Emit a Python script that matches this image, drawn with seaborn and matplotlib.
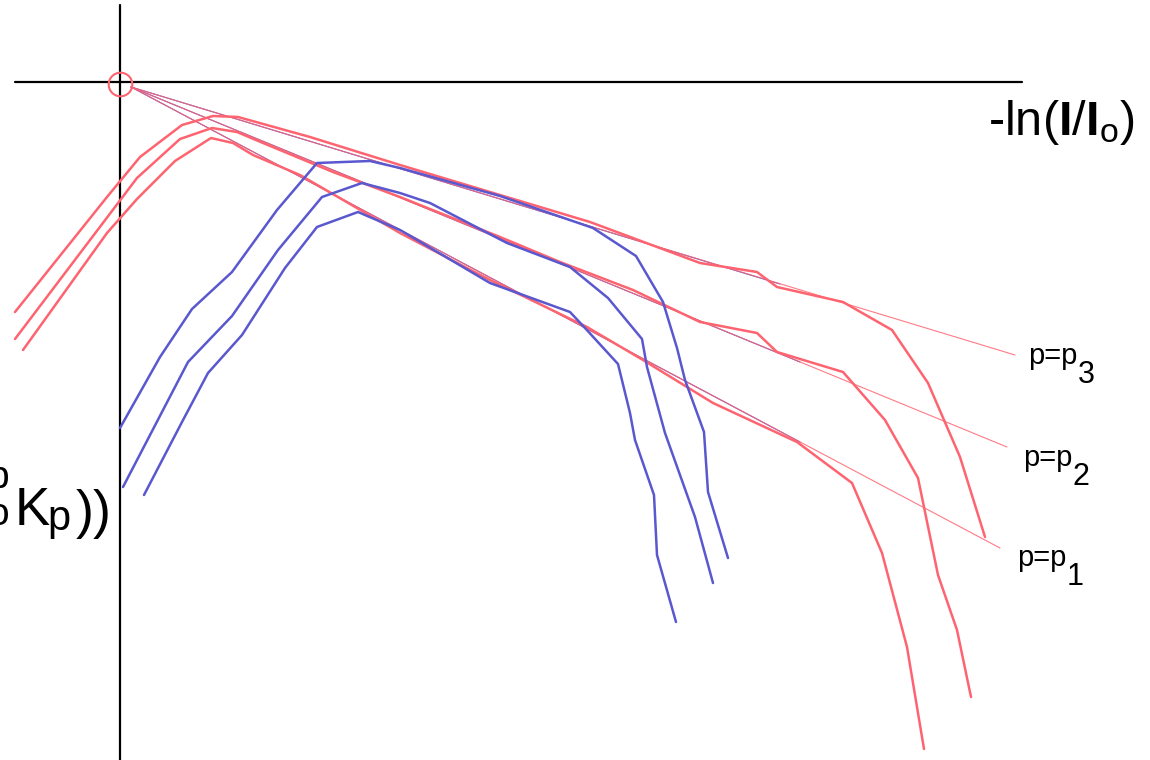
import numpy as np
import pandas as pd
import matplotlib
matplotlib.use("Agg")
import matplotlib.pyplot as plt
import seaborn as sns

# curves in axis units: x = -ln(I/I0), y = ln(...) ; origin where the axes cross
red1_x = [-1.05, -0.13, 0.20, 0.62, 0.93, 1.18, 1.90, 2.80, 3.80, 4.70, 5.13, 5.80, 6.37, 6.57, 7.23, 7.72, 8.08, 8.40, 8.65]
red1_y = [-2.30, -1.15, -0.75, -0.43, -0.34, -0.35, -0.55, -0.83, -1.13, -1.40, -1.56, -1.81, -1.90, -2.05, -2.20, -2.48, -3.01, -3.75, -4.55]

red2_x = [-1.05, 0.17, 0.60, 0.92, 1.17, 1.43, 2.13, 2.80, 3.80, 4.40, 5.13, 5.80, 6.37, 6.57, 7.23, 7.65, 7.98, 8.18, 8.37, 8.51]
red2_y = [-2.57, -0.96, -0.57, -0.46, -0.50, -0.61, -0.90, -1.15, -1.55, -1.80, -2.08, -2.40, -2.51, -2.70, -2.90, -3.38, -3.96, -4.93, -5.48, -6.15]

red3_x = [-0.97, -0.13, 0.17, 0.55, 0.91, 1.13, 1.33, 1.80, 2.80, 3.70, 4.67, 5.23, 5.93, 6.77, 7.32, 7.62, 7.87, 8.04]
red3_y = [-2.68, -1.51, -1.17, -0.79, -0.56, -0.61, -0.73, -0.93, -1.51, -1.98, -2.45, -2.78, -3.21, -3.60, -4.01, -4.71, -5.65, -6.67]

blue1_x = [0.00, 0.40, 0.72, 1.12, 1.57, 1.97, 2.50, 2.80, 3.80, 4.73, 5.16, 5.43, 5.57, 5.65, 5.84, 5.88, 6.08]
blue1_y = [-3.46, -2.75, -2.27, -1.90, -1.28, -0.81, -0.79, -0.86, -1.14, -1.46, -1.74, -2.20, -2.66, -2.98, -3.50, -4.10, -4.76]

blue2_x = [0.03, 0.68, 1.12, 1.58, 2.02, 2.42, 2.80, 3.10, 3.87, 4.50, 4.88, 5.22, 5.27, 5.45, 5.75, 5.93]
blue2_y = [-4.05, -2.80, -2.34, -1.68, -1.15, -1.01, -1.11, -1.21, -1.61, -1.85, -2.16, -2.57, -2.85, -3.51, -4.35, -5.01]

blue3_x = [0.24, 0.62, 0.88, 1.22, 1.65, 1.97, 2.38, 2.80, 3.70, 4.50, 4.65, 4.98, 5.10, 5.15, 5.34, 5.37, 5.56]
blue3_y = [-4.13, -3.40, -2.91, -2.53, -1.86, -1.45, -1.30, -1.48, -2.01, -2.30, -2.46, -2.82, -3.31, -3.58, -4.13, -4.73, -5.40]

# straight asymptotes p = p3, p2, p1
ref_start = (0.11, -0.05)
ref_end_x = [8.95, 8.87, 8.80]
ref_end_y = [-2.73, -3.65, -4.66]
ref_blue_end_x = [6.60, 6.80, 6.80]
ref_blue_end_y = [-2.02, -2.80, -3.60]
ref_labels = ["3", "2", "1"]

RED = "#fe6470"
BLUE = "#5a58cf"

rows = []
for name, xs, ys in [("r1", red1_x, red1_y), ("r2", red2_x, red2_y), ("r3", red3_x, red3_y),
                     ("b1", blue1_x, blue1_y), ("b2", blue2_x, blue2_y), ("b3", blue3_x, blue3_y)]:
    for i, (x, y) in enumerate(zip(xs, ys)):
        rows.append({"curve": name, "order": i, "x": x, "y": y})
curves = pd.DataFrame(rows)
palette = {"r1": RED, "r2": RED, "r3": RED, "b1": BLUE, "b2": BLUE, "b3": BLUE}

sns.set_theme(style="white")
plt.rcParams["font.family"] = ["Liberation Sans", "DejaVu Sans"]
plt.rcParams["text.color"] = "black"
plt.rcParams["mathtext.fontset"] = "custom"
plt.rcParams["mathtext.rm"] = "Liberation Sans"
plt.rcParams["mathtext.it"] = "Liberation Sans"
plt.rcParams["mathtext.bf"] = "Liberation Sans:bold"

fig = plt.figure(figsize=(11.5, 7.6), dpi=100)
ax = fig.add_axes([0, 0, 1, 1])
ax.set_xlim(-1.20, 10.30)
ax.set_ylim(-6.78, 0.82)
ax.axis("off")

# axes through the origin
ax.plot([-1.05, 9.02], [0, 0], color="black", lw=1.6, zorder=1)
ax.plot([0, 0], [0.77, -6.78], color="black", lw=1.6, zorder=1)

# asymptotes
for bx, by in zip(ref_blue_end_x, ref_blue_end_y):
    ax.plot([ref_start[0], bx], [ref_start[1], by], color=BLUE, lw=0.8, zorder=2)
for ex, ey in zip(ref_end_x, ref_end_y):
    ax.plot([ref_start[0], ex], [ref_start[1], ey], color=RED, lw=0.8, alpha=0.85, zorder=3)

sns.lineplot(data=curves, x="x", y="y", hue="curve", palette=palette, sort=False,
             estimator=None, units="curve", lw=1.8, legend=False, ax=ax, zorder=4)

ax.plot([0], [-0.02], marker="o", ms=17, mfc="none", mec=RED, mew=1.5, zorder=5)

# x label
ax.text(8.68, -0.53, r"-ln($\mathbf{I}$/$\mathbf{I}_\mathrm{o}$)", fontsize=35,
        ha="left", va="baseline", color="black")

# asymptote labels
label_pos = [(9.08, -2.82), (9.03, -3.84), (8.97, -4.84)]
for (lx, ly), sub in zip(label_pos, ref_labels):
    ax.text(lx, ly, "p=p", fontsize=21, ha="left", va="baseline", color="black")
    ax.annotate(sub, xy=(lx, ly), xytext=(36, -14), textcoords="offset points",
                fontsize=22, ha="left", va="baseline", color="black")

# y label, cut off by the left edge as in the original
yl = (-1.05, -4.43)
ax.annotate("K", xy=yl, xytext=(0, 0), textcoords="offset points", fontsize=38,
            ha="left", va="baseline", color="black")
ax.annotate("p", xy=yl, xytext=(23, -3.6), textcoords="offset points", fontsize=30,
            ha="left", va="baseline", color="black")
ax.annotate("))", xy=yl, xytext=(44, -2.5), textcoords="offset points", fontsize=39,
            ha="left", va="baseline", color="black")
ax.annotate("-ln(ln(\u03b2", xy=yl, xytext=(-14, -1), textcoords="offset points", fontsize=38,
            ha="right", va="baseline", color="black")
ax.annotate("p", xy=yl, xytext=(-4, 27), textcoords="offset points", fontsize=28,
            ha="right", va="baseline", color="black")
ax.annotate("o", xy=yl, xytext=(-4, 0), textcoords="offset points", fontsize=28,
            ha="right", va="baseline", color="black")

fig.savefig("out.png", dpi=100)
